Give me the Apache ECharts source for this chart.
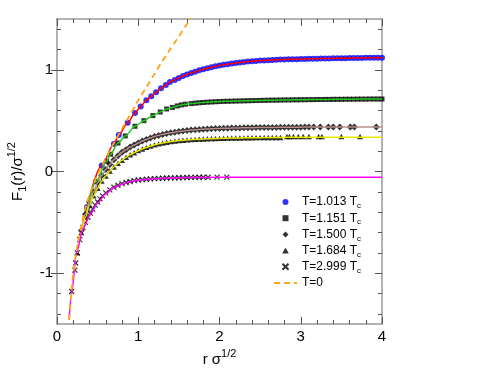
<!DOCTYPE html>
<html>
<head>
<meta charset="utf-8">
<script src="https://cdn.jsdelivr.net/npm/echarts@6/dist/echarts.min.js"></script>
<style>
  html, body { margin: 0; padding: 0; background: #fff; }
  #chart { width: 494px; height: 382px; }
</style>
</head>
<body>
<div id="chart"></div>
<script>
// T = 0 curve (dashed)
var r0 = [0.14, 0.16, 0.18, 0.2, 0.25, 0.3, 0.35, 0.4, 0.5, 0.6, 0.7, 0.8, 0.9, 1.0, 1.1, 1.2, 1.3, 1.4, 1.5, 1.6, 1.7]
var f0 = [-1.56, -1.35, -1.16, -1.01, -0.73, -0.53, -0.36, -0.23, -0.03, 0.13, 0.28, 0.42, 0.56, 0.70, 0.83, 0.96, 1.09, 1.21, 1.33, 1.45, 1.57]

// T = 1.013 Tc
var r1 = [0.37, 0.55, 0.70, 0.76, 0.87, 0.96, 1.03, 1.10, 1.16, 1.22, 1.28, 1.34, 1.39, 1.45,
  1.50, 1.55, 1.60, 1.65, 1.70, 1.75, 1.80, 1.85, 1.90, 1.95, 2.00, 2.05, 2.10, 2.15, 2.20, 2.25,
  2.30, 2.35, 2.40, 2.45, 2.50, 2.55, 2.60, 2.65, 2.70, 2.75, 2.80, 2.85, 2.90, 2.95, 3.00, 3.05,
  3.10, 3.15, 3.20, 3.25, 3.30, 3.35, 3.40, 3.45, 3.50, 3.55, 3.60, 3.65, 3.70, 3.75, 3.80, 3.85,
  3.90, 3.95, 4.00]
var f1 = [-0.35, 0.06, 0.27, 0.36, 0.48, 0.575, 0.64, 0.70, 0.74, 0.78, 0.82, 0.85, 0.88, 0.90,
  0.92, 0.94, 0.955, 0.97, 0.98, 0.995, 1.005, 1.015, 1.025, 1.035, 1.043, 1.05, 1.056, 1.062, 1.067, 1.072,
  1.077, 1.081, 1.085, 1.088, 1.091, 1.093, 1.095, 1.097, 1.099, 1.101, 1.102, 1.103, 1.104, 1.105, 1.106, 1.107,
  1.108, 1.109, 1.11, 1.111, 1.112, 1.112, 1.113, 1.114, 1.114, 1.115, 1.116, 1.116, 1.117, 1.117, 1.118, 1.118,
  1.119, 1.119, 1.12]

// T = 1.151 Tc
var r2 = [0.37, 0.48, 0.61, 0.66, 0.75, 0.84, 0.96, 1.07, 1.18, 1.27, 1.35, 1.42, 1.48, 1.53, 1.58,
  1.65, 1.70, 1.75, 1.80, 1.85, 1.90, 1.95, 2.00, 2.05, 2.10, 2.15, 2.20, 2.25, 2.30, 2.35, 2.40,
  2.45, 2.50, 2.55, 2.60, 2.65, 2.70, 2.75, 2.80, 2.85, 2.90, 2.95, 3.00, 3.05, 3.10, 3.15, 3.20,
  3.25, 3.30, 3.35, 3.40, 3.45, 3.50, 3.55, 3.60, 3.65, 3.70, 3.75, 3.80, 3.85, 3.90, 3.95, 4.00]
var f2 = [-0.38, -0.10, 0.10, 0.17, 0.28, 0.35, 0.445, 0.50, 0.55, 0.585, 0.615, 0.63, 0.645, 0.655, 0.662,
  0.668, 0.672, 0.676, 0.679, 0.682, 0.684, 0.686, 0.688, 0.69, 0.691, 0.692, 0.693, 0.694, 0.695, 0.696, 0.697,
  0.698, 0.699, 0.7, 0.701, 0.702, 0.702, 0.703, 0.704, 0.704, 0.705, 0.705, 0.706, 0.706, 0.707, 0.707, 0.708,
  0.708, 0.709, 0.709, 0.71, 0.71, 0.71, 0.711, 0.711, 0.711, 0.712, 0.712, 0.712, 0.713, 0.713, 0.713, 0.713]

// T = 1.500 Tc
var r3 = [0.30, 0.35, 0.40, 0.45, 0.50, 0.55, 0.60, 0.65, 0.70, 0.75, 0.80, 0.85, 0.90, 0.95, 1.00,
  1.05, 1.10, 1.15, 1.20, 1.25, 1.30, 1.35, 1.40, 1.45, 1.50, 1.55, 1.60, 1.65, 1.70, 1.75, 1.80,
  1.85, 1.90, 1.95, 2.00, 2.05, 2.10, 2.15, 2.20, 2.25, 2.30, 2.35, 2.40, 2.45, 2.50, 2.55, 2.60,
  2.65, 2.70, 2.75, 2.80, 2.85, 2.90, 2.95, 3.00, 3.05, 3.10,
  3.16, 3.24, 3.34, 3.40, 3.48, 3.61, 3.66, 3.93]
var f3 = [-0.58, -0.42, -0.30, -0.20, -0.11, -0.04, 0.02, 0.07, 0.115, 0.155, 0.19, 0.215, 0.24, 0.26, 0.28,
  0.30, 0.315, 0.33, 0.345, 0.355, 0.365, 0.373, 0.38, 0.387, 0.393, 0.398, 0.403, 0.407, 0.41, 0.413, 0.416,
  0.418, 0.42, 0.422, 0.424, 0.425, 0.426, 0.427, 0.428, 0.429, 0.43, 0.431, 0.431, 0.432, 0.432, 0.433, 0.433,
  0.434, 0.434, 0.435, 0.435, 0.435, 0.436, 0.436, 0.436, 0.437, 0.437,
  0.437, 0.437, 0.437, 0.438, 0.438, 0.438, 0.438, 0.438]

// T = 1.684 Tc
var r4 = [0.25, 0.30, 0.35, 0.40, 0.45, 0.50, 0.55, 0.60, 0.65, 0.70, 0.75, 0.80, 0.85, 0.90, 0.95, 1.00,
  1.05, 1.10, 1.15, 1.20, 1.25, 1.30, 1.35, 1.40, 1.45, 1.50, 1.55, 1.60, 1.65, 1.70, 1.75, 1.80,
  1.85, 1.90, 1.95, 2.00, 2.05, 2.10, 2.15, 2.20, 2.25, 2.30, 2.35, 2.40, 2.45, 2.50, 2.55, 2.60,
  2.65, 2.70, 2.75,
  2.83, 2.86, 2.91, 2.97, 3.03, 3.10, 3.22, 3.26, 3.50, 3.73]
var f4 = [-0.80, -0.60, -0.45, -0.33, -0.24, -0.165, -0.095, -0.045, 0.005, 0.045, 0.08, 0.11, 0.14, 0.165, 0.185, 0.205,
  0.222, 0.237, 0.25, 0.262, 0.272, 0.281, 0.288, 0.294, 0.299, 0.304, 0.308, 0.311, 0.314, 0.316, 0.318, 0.32,
  0.322, 0.323, 0.325, 0.326, 0.327, 0.328, 0.329, 0.33, 0.33, 0.331, 0.332, 0.332, 0.333, 0.333, 0.334, 0.334,
  0.334, 0.335, 0.335,
  0.345, 0.345, 0.345, 0.345, 0.345, 0.345, 0.345, 0.345, 0.345, 0.345]

// T = 2.999 Tc
var r5 = [0.18, 0.22, 0.23, 0.25, 0.28, 0.32, 0.35, 0.38, 0.41, 0.44, 0.47, 0.50, 0.53, 0.56, 0.60,
  0.65, 0.70, 0.75, 0.80, 0.85, 0.90, 0.95, 1.00, 1.05, 1.10, 1.15, 1.20, 1.25, 1.30, 1.35, 1.40,
  1.45, 1.50, 1.55, 1.60, 1.65, 1.70, 1.75, 1.80, 1.86, 1.97, 2.09]
var f5 = [-1.18, -0.97, -0.90, -0.80, -0.67, -0.55, -0.50, -0.45, -0.41, -0.37, -0.33, -0.30, -0.27, -0.24, -0.21,
  -0.18, -0.155, -0.135, -0.12, -0.108, -0.098, -0.09, -0.084, -0.08, -0.076, -0.073, -0.07, -0.068, -0.066, -0.064, -0.063,
  -0.062, -0.061, -0.06, -0.059, -0.058, -0.058, -0.057, -0.057, -0.057, -0.056, -0.056]

// fitted line for T = 2.999 Tc (goes further on both ends)
var rFit5 = [0.15, 0.18, 0.24, 0.32, 0.41, 0.5, 0.6, 0.7, 0.8, 0.9, 1.0, 1.2, 1.4, 1.6, 2.0, 3.0, 4.0]
var fFit5 = [-1.45, -1.19, -0.80, -0.56, -0.42, -0.31, -0.22, -0.16, -0.125, -0.10, -0.087, -0.072, -0.064, -0.060, -0.057, -0.056, -0.056]

// plateau end points of the other fitted lines at r = 4
var rEnd = 4.0
var fEnd3 = 0.438
var fEnd4 = 0.336

var yMajor = [-1, 0, 1]
var yMinor = [-1.4, -1.2, -0.8, -0.6, -0.4, -0.2, 0.2, 0.4, 0.6, 0.8, 1.2, 1.4]

var names = ['T=1.013 T_c', 'T=1.151 T_c', 'T=1.500 T_c', 'T=1.684 T_c', 'T=2.999 T_c', 'T=0']

function pairs(xs, ys) {
  var out = []
  for (var i = 0; i < xs.length && i < ys.length; i++) out.push([xs[i], ys[i]])
  return out
}

var font = 'Liberation Sans, Arial, Helvetica, sans-serif'
var axisGrey = '#999'
var tickGrey = '#555'

// marker shapes as paths so the legend keeps them square
var symSquare = 'path://M0,0L10,0L10,10L0,10Z'
var symDiamond = 'path://M5,0L10,5L5,10L0,5Z'
var symTriangle = 'path://M5,0L10,9L0,9Z'
var symCross = 'path://M0,0L10,10M10,0L0,10'

var dom = document.getElementById('chart')
var myChart = echarts.init(dom, null, { renderer: 'canvas' })

function xAx(pos, showLabel) {
  return {
    type: 'value',
    position: pos,
    min: 0,
    max: 4,
    interval: 1,
    axisLine: { show: true, onZero: false, lineStyle: { color: axisGrey, width: 1.5 } },
    axisTick: { show: true, inside: true, length: 7, lineStyle: { color: tickGrey, width: 1 } },
    minorTick: { show: true, splitNumber: 5, length: 4, lineStyle: { color: tickGrey, width: 1 } },
    axisLabel: { show: showLabel, fontSize: 15, color: '#000', fontFamily: font, margin: 5 },
    splitLine: { show: false },
    minorSplitLine: { show: false }
  }
}

function yAx(pos, ticks, inside, len, line, label) {
  return {
    type: 'value',
    position: pos,
    min: -1.5,
    max: 1.5,
    axisLine: { show: line, onZero: false, lineStyle: { color: axisGrey, width: 1.5 } },
    axisTick: { show: true, inside: inside, length: len, customValues: ticks, lineStyle: { color: tickGrey, width: 1 } },
    axisLabel: { show: label, customValues: yMajor, fontSize: 15, color: '#000', fontFamily: font, margin: 4 },
    splitLine: { show: false }
  }
}

var xAxisMain = xAx('bottom', true)
xAxisMain.name = '{m|r σ}{sp|1/2}'
xAxisMain.nameLocation = 'middle'
xAxisMain.nameGap = 23
xAxisMain.nameTextStyle = {
  fontFamily: font, color: '#000',
  rich: {
    m: { fontSize: 15, fontFamily: font, color: '#000', lineHeight: 22 },
    sp: { fontSize: 11, fontFamily: font, color: '#000', lineHeight: 11, verticalAlign: 'top' }
  }
}

var yAxisMain = yAx('left', yMajor, false, 6, true, true)
yAxisMain.name = '{m|F}{sb|1}{m|(r)/σ}{sp|1/2}'
yAxisMain.nameLocation = 'middle'
yAxisMain.nameRotate = 90
yAxisMain.nameGap = 28
yAxisMain.nameTextStyle = {
  fontFamily: font, color: '#000',
  rich: {
    m: { fontSize: 15, fontFamily: font, color: '#000', lineHeight: 22 },
    sb: { fontSize: 11, fontFamily: font, color: '#000', lineHeight: 11, verticalAlign: 'bottom' },
    sp: { fontSize: 11, fontFamily: font, color: '#000', lineHeight: 11, verticalAlign: 'top' }
  }
}

function dots(name, data, symbol, size, color, filled) {
  return {
    name: name,
    type: 'scatter',
    data: data,
    symbol: symbol,
    symbolSize: size,
    symbolKeepAspect: true,
    itemStyle: filled
      ? { color: color }
      : { color: 'rgba(0,0,0,0)', borderColor: color, borderWidth: 1.2 },
    z: 2
  }
}

function fit(data, color) {
  return {
    type: 'line',
    data: data,
    showSymbol: false,
    symbol: 'none',
    smooth: 0.3,
    smoothMonotone: 'x',
    lineStyle: { color: color, width: 1.5 },
    z: 3
  }
}

option = {
  animation: false,
  backgroundColor: '#fff',
  grid: { left: 57, right: 112, top: 19, bottom: 58, outerBoundsMode: 'none' },
  xAxis: [xAxisMain, xAx('top', false)],
  yAxis: [
    yAxisMain,
    yAx('left', yMajor, true, 7, false, false),
    yAx('left', yMinor, true, 4, false, false),
    yAx('right', yMajor, true, 7, true, false),
    yAx('right', yMinor, true, 4, false, false)
  ],
  legend: {
    orient: 'vertical',
    left: 268,
    top: 191,
    itemWidth: 23,
    itemHeight: 6,
    itemGap: 2.2,
    symbolKeepAspect: true,
    data: names.map(function (n) {
      return n === 'T=0' ? { name: n, itemStyle: { color: 'rgba(0,0,0,0)', borderWidth: 0 } } : n
    }),
    formatter: function (name) {
      if (name.indexOf('_c') > 0) return '{n|' + name.replace('_c', '') + '}{s|c}'
      return '{n|' + name + '}'
    },
    textStyle: {
      fontFamily: font,
      color: '#000',
      rich: {
        n: { fontSize: 12, fontFamily: font, color: '#000', lineHeight: 16 },
        s: { fontSize: 8, fontFamily: font, color: '#000', lineHeight: 6, verticalAlign: 'bottom' }
      }
    }
  },
  series: [
    dots(names[0], pairs(r1, f1), 'circle', 6, '#0000ff', true),
    dots(names[1], pairs(r2, f2), symSquare, 5, '#000', true),
    dots(names[2], pairs(r3, f3), symDiamond, 7, '#000', true),
    dots(names[3], pairs(r4, f4), symTriangle, 6, '#000', true),
    dots(names[4], pairs(r5, f5), symCross, 5, '#000', false),
    fit(pairs(r1, f1), '#ff0000'),
    fit(pairs(r2, f2), '#22cc22'),
    fit(pairs(r3, f3).concat([[rEnd, fEnd3]]), '#bc8f8f'),
    fit(pairs(r4, f4.map(function (v, i) { return r4[i] > 2.8 ? fEnd4 : v })).concat([[rEnd, fEnd4]]), '#e8e800'),
    fit(pairs(rFit5, fFit5), '#ff00ff'),
    {
      name: names[5],
      type: 'line',
      data: pairs(r0, f0),
      showSymbol: false,
      symbol: 'none',
      smooth: 0.3,
      lineStyle: { color: '#ffa31a', width: 1.8, type: [6, 4] },
      itemStyle: { color: '#ffa31a' },
      z: 4
    }
  ]
}

if (option && typeof option === 'object') {
  myChart.setOption(option, true)
}
</script>
</body>
</html>
